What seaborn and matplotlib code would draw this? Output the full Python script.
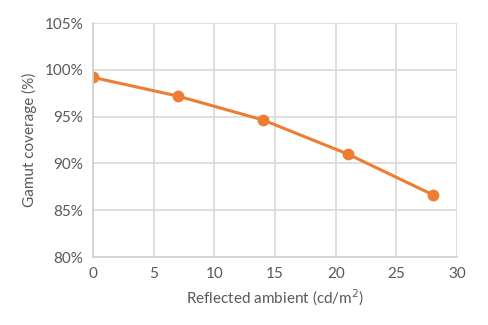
import matplotlib
matplotlib.use("Agg")
import matplotlib.pyplot as plt
import seaborn as sns
import pandas as pd
from matplotlib.ticker import FuncFormatter, MultipleLocator

ambient = [0, 7, 14, 21, 28]
coverage = [99.2, 97.2, 94.65, 91.0, 86.65]

df = pd.DataFrame({"ambient": ambient, "coverage": coverage})

sns.set_theme(style="whitegrid")
plt.rcParams['font.family'] = ['Lato', 'DejaVu Sans']

fig = plt.figure(figsize=(4.89, 3.25), dpi=100)
ax = fig.add_axes([0.190, 0.209, 0.745, 0.720])

sns.lineplot(data=df, x="ambient", y="coverage", ax=ax, color="#ED7D31",
             linewidth=2.2, marker="o", markersize=8.5, markeredgewidth=0)

ax.set_xlim(0, 30)
ax.set_ylim(80, 105)
ax.xaxis.set_major_locator(MultipleLocator(5))
ax.yaxis.set_major_locator(MultipleLocator(5))
ax.yaxis.set_major_formatter(FuncFormatter(lambda v, p: f"{v:.0f}%"))

ax.grid(True, color="#D9D9D9", linewidth=1.2)
for s in ["top", "right"]:
    ax.spines[s].set_visible(False)
for s in ["left", "bottom"]:
    ax.spines[s].set_visible(True)
    ax.spines[s].set_color("#D0D0D0")
    ax.spines[s].set_linewidth(1.2)
ax.set_facecolor("white")
ax.tick_params(axis="both", colors="#595959", labelsize=11, length=0, pad=7)
ax.set_xlabel("Reflected ambient (cd/m$^2$)", color="#595959", fontsize=11, labelpad=5)
ax.set_ylabel("Gamut coverage (%)", color="#595959", fontsize=11, labelpad=5)

fig.savefig("out.png", dpi=100, facecolor="white")
